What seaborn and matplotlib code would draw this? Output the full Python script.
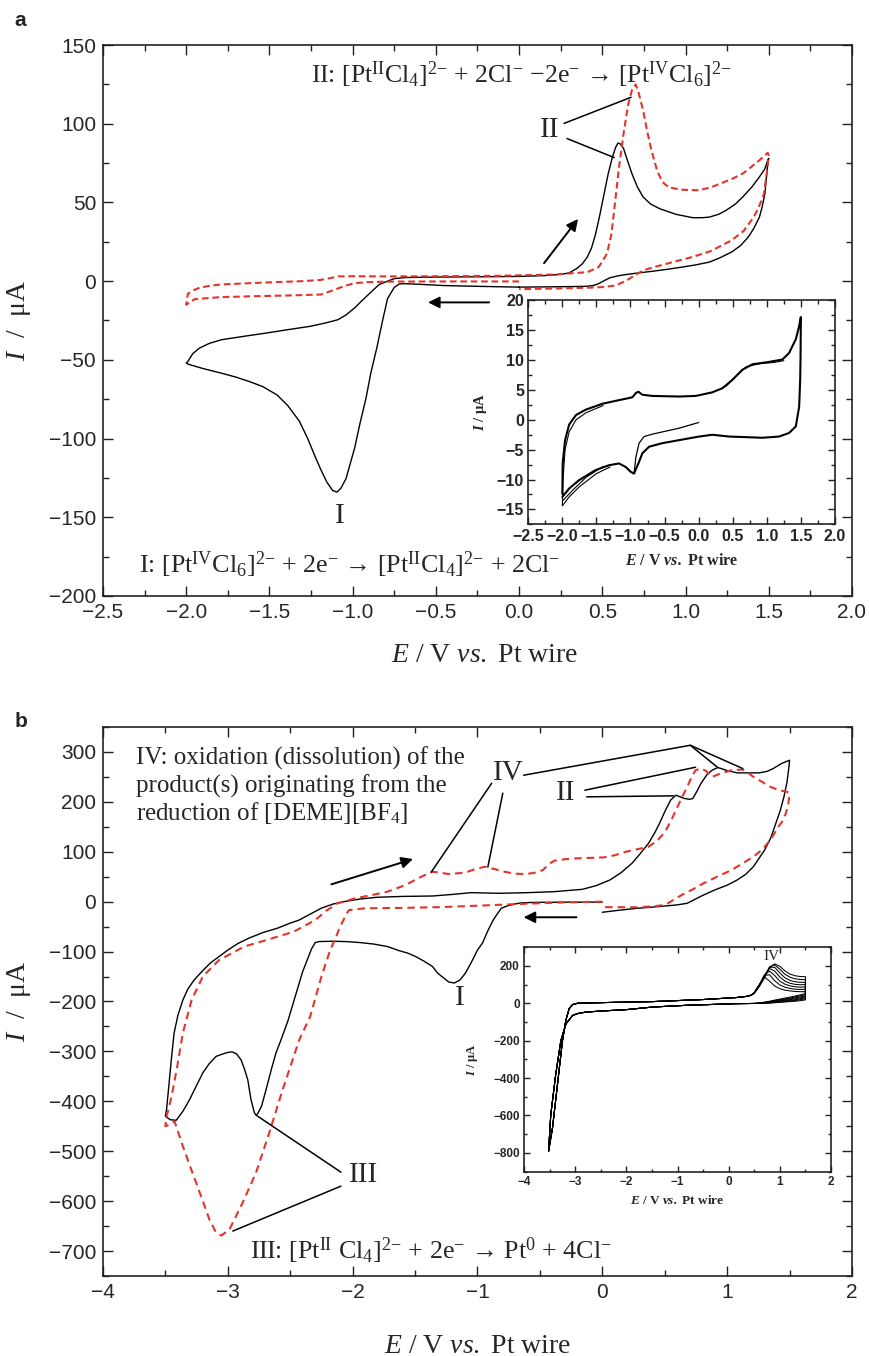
import seaborn as sns
import matplotlib.pyplot as plt
from matplotlib.ticker import MultipleLocator

# ---------------- data: (E / V, I / uA) ----------------
# panel a, solid black cycle
a_black = [(0.00, -3.8), (-0.25, -3.3), (-0.455, -2.8), (-0.60, -2.0), (-0.688, -1.6), (-0.72, -1.8),
           (-0.75, -4.0), (-0.79, -11.0), (-0.82, -25), (-0.855, -42.5), (-0.89, -58), (-0.92, -74.5),
           (-0.955, -90), (-0.988, -106), (-1.04, -125.5), (-1.07, -131.5), (-1.094, -134), (-1.12, -133),
           (-1.155, -127.7), (-1.19, -120), (-1.22, -112.8), (-1.27, -100), (-1.32, -89), (-1.39, -79),
           (-1.454, -72.3), (-1.54, -67), (-1.62, -63.8), (-1.70, -61), (-1.787, -58.5), (-1.90, -55.5),
           (-1.987, -52.8), (-2.00, -52),
           (-1.99, -51), (-1.96, -46), (-1.92, -42.5), (-1.86, -39.5), (-1.787, -37.2), (-1.65, -35),
           (-1.52, -33), (-1.40, -31), (-1.255, -28.7), (-1.16, -26.5), (-1.088, -24.5), (-1.04, -21.5),
           (-0.988, -17), (-0.945, -12.5), (-0.905, -8.5), (-0.87, -5), (-0.84, -2.1), (-0.79, 0.0),
           (-0.75, 1.6), (-0.68, 2.3), (-0.50, 2.6), (-0.20, 2.8), (0.00, 3.0), (0.15, 3.5), (0.25, 4.3),
           (0.30, 5.2), (0.345, 7.9), (0.38, 11), (0.41, 15.3), (0.435, 21), (0.46, 30.1), (0.485, 42),
           (0.511, 55.6), (0.535, 68), (0.561, 78.9), (0.58, 85), (0.595, 87.8), (0.61, 87), (0.628, 84.2),
           (0.65, 77), (0.678, 68.3), (0.71, 60), (0.745, 53.5), (0.79, 49), (0.845, 46), (0.944, 42.4),
           (1.044, 40.3), (1.10, 40.3), (1.144, 40.7), (1.20, 42.5), (1.244, 45), (1.30, 49), (1.344, 53.5),
           (1.40, 60), (1.444, 66.2), (1.475, 71), (1.494, 76.8), (1.50, 78),
           (1.494, 74.7), (1.485, 65), (1.477, 55.6), (1.46, 47), (1.444, 40.7), (1.41, 33.5), (1.377, 28),
           (1.33, 22.5), (1.277, 18.5), (1.21, 15), (1.144, 12.1), (1.06, 10.3), (0.978, 8.9), (0.89, 7.5),
           (0.811, 6.4), (0.74, 5.5), (0.678, 4.7), (0.63, 4.0), (0.595, 3.4), (0.545, 2.1), (0.52, 0.8),
           (0.495, -0.6), (0.47, -2.0), (0.445, -2.8), (0.40, -3.3), (0.345, -3.4), (0.20, -3.6), (0.00, -3.8)]

# panel a, red dashed cycle
a_red = [(0.00, -0.2), (-0.40, -0.2), (-0.79, -0.3), (-0.90, -0.6), (-0.99, -1.3), (-1.06, -3.5),
         (-1.12, -5.9), (-1.19, -8.5), (-1.38, -9.1), (-1.60, -9.6), (-1.80, -10.2), (-1.95, -11.5),
         (-2.00, -15.0), (-1.99, -8.0), (-1.95, -5.5), (-1.92, -4.2), (-1.85, -2.8), (-1.787, -2.1),
         (-1.60, -1.2), (-1.454, -0.6), (-1.30, 0.0), (-1.19, 0.8), (-1.13, 2.0), (-1.088, 3.0), (-1.0, 3.1),
         (-0.79, 3.0), (-0.50, 3.1), (-0.12, 3.4), (0.21, 4.2), (0.41, 5.7), (0.478, 8.9), (0.528, 17.4),
         (0.555, 30), (0.578, 51.3), (0.60, 72), (0.628, 93.8), (0.655, 112), (0.678, 121.4), (0.70, 125.0),
         (0.715, 121), (0.745, 108.6), (0.77, 95), (0.795, 83.2), (0.83, 70), (0.861, 63), (0.90, 59.5),
         (0.978, 58.1), (1.078, 57.7), (1.15, 59.5), (1.21, 62), (1.28, 65), (1.344, 68.3), (1.40, 73),
         (1.444, 76.8), (1.494, 81.5), (1.50, 80), (1.49, 70), (1.47, 55), (1.44, 47), (1.41, 40.7),
         (1.35, 32), (1.277, 25.9), (1.15, 19), (1.04, 15.3), (0.92, 12), (0.81, 8.9), (0.745, 6.8),
         (0.70, 4.0), (0.645, 0.4), (0.60, -1.8), (0.578, -2.8), (0.50, -3.8), (0.41, -4.2), (0.20, -4.7),
         (0.0, -5.1)]

# panel a inset: repeated cycles
ia_start = [(0.0, -0.45), (-0.287, -1.4), (-0.68, -2.4), (-0.80, -2.8), (-0.874, -3.9), (-0.92, -6.2),
            (-0.948, -9.0)]
ia_cycle = [(-2.0, -12.4), (-1.995, -7.3), (-1.96, -3.4), (-1.90, -0.8), (-1.80, 0.8), (-1.657, 1.7),
            (-1.41, 2.7), (-1.168, 3.3), (-1.02, 3.65), (-0.97, 3.8), (-0.92, 4.5), (-0.884, 4.7),
            (-0.825, 4.2), (-0.68, 4.0), (-0.287, 3.9), (-0.042, 4.0), (0.20, 4.6), (0.35, 5.3),
            (0.496, 6.7), (0.643, 8.4), (0.79, 9.3), (1.035, 9.7), (1.23, 10.1), (1.328, 11.2),
            (1.426, 13.5), (1.475, 15.7), (1.50, 17.2), (1.495, 10.0), (1.49, 6.7), (1.475, 2.2),
            (1.426, -1.1), (1.328, -2.2), (1.18, -2.8), (0.937, -3.0), (0.692, -2.9), (0.447, -2.8),
            (0.20, -2.5), (0.007, -2.8), (-0.287, -3.4), (-0.53, -3.9), (-0.727, -4.5), (-0.825, -5.6),
            (-0.884, -7.3), (-0.948, -9.0), (-0.997, -8.7), (-1.07, -7.9), (-1.168, -7.3), (-1.315, -7.6),
            (-1.51, -8.4), (-1.755, -10.1), (-1.90, -11.5), (-2.0, -12.9)]
ia_outer = [(-1.30, -7.9), (-1.50, -9.0), (-1.75, -11.2), (-1.90, -12.9), (-2.0, -14.4), (-1.99, -10.0),
            (-1.96, -5.0), (-1.90, -2.0), (-1.80, 0.0), (-1.65, 1.2), (-1.40, 2.4)]
ia_mid = [(-1.40, -7.8), (-1.65, -9.6), (-1.85, -11.8), (-2.0, -13.6)]
ia_upper = [(0.40, 5.6), (0.55, 7.3), (0.70, 8.9), (0.90, 9.4), (1.10, 9.6), (1.25, 9.9)]

# panel b, solid black
b_black = [(0.0, -1.0), (-0.30, -1.0), (-0.55, -1.5), (-0.65, -2.5), (-0.70, -4.7), (-0.75, -7.5),
           (-0.81, -13.3), (-0.874, -36.7), (-0.92, -60), (-0.96, -83), (-1.0, -97), (-1.05, -122),
           (-1.096, -143), (-1.14, -157), (-1.185, -163), (-1.23, -161), (-1.27, -153), (-1.32, -143),
           (-1.36, -130), (-1.43, -119), (-1.495, -110), (-1.56, -103), (-1.63, -98), (-1.72, -90),
           (-1.83, -85), (-1.94, -82), (-2.05, -80), (-2.16, -79.3), (-2.27, -80), (-2.30, -82),
           (-2.33, -95), (-2.40, -140), (-2.46, -190), (-2.52, -240), (-2.574, -277), (-2.614, -303),
           (-2.65, -335), (-2.694, -377), (-2.73, -410), (-2.77, -429), (-2.787, -423), (-2.814, -397),
           (-2.84, -357), (-2.867, -335), (-2.894, -317), (-2.93, -305), (-2.966, -301), (-3.0, -302),
           (-3.05, -306), (-3.094, -310), (-3.15, -325), (-3.2, -343), (-3.25, -368), (-3.307, -397),
           (-3.36, -420), (-3.413, -438), (-3.46, -437), (-3.50, -430), (-3.49, -415), (-3.47, -363),
           (-3.45, -310), (-3.43, -263), (-3.40, -228), (-3.36, -197), (-3.32, -175), (-3.27, -157),
           (-3.2, -138), (-3.14, -123), (-3.07, -110), (-3.0, -97), (-2.92, -84), (-2.83, -73),
           (-2.72, -62), (-2.6, -53), (-2.5, -43), (-2.43, -37), (-2.34, -25), (-2.25, -13), (-2.16, -5),
           (-2.07, 0), (-1.95, 5), (-1.81, 8.7), (-1.6, 10.5), (-1.36, 11.3), (-1.2, 14.5), (-1.05, 18),
           (-0.83, 16.7), (-0.6, 18), (-0.385, 20), (-0.16, 24.7), (-0.05, 32), (0.06, 43.3), (0.15, 58),
           (0.237, 76.7), (0.30, 95), (0.37, 116.7), (0.42, 138), (0.458, 156.7), (0.50, 180),
           (0.547, 203.3), (0.59, 213.3), (0.625, 210), (0.658, 206.7), (0.70, 205), (0.725, 206.7),
           (0.76, 222), (0.79, 236.7), (0.84, 255), (0.88, 263.3), (0.925, 268.7), (0.96, 266),
           (0.99, 263.3), (1.08, 258), (1.17, 258), (1.257, 258), (1.32, 261), (1.37, 266.7),
           (1.435, 276.7), (1.50, 283.3), (1.495, 270), (1.48, 240), (1.455, 210), (1.425, 182),
           (1.39, 156.7), (1.35, 128), (1.30, 103.3), (1.25, 85), (1.21, 70), (1.15, 55), (1.08, 43.3),
           (1.00, 33), (0.90, 23.3), (0.80, 12), (0.68, -3.3), (0.60, -6.5), (0.503, -8.7), (0.40, -11),
           (0.28, -13.3), (0.14, -17), (0.0, -21.3)]

# panel b, red dashed
b_red = [(0.0, 0.0), (-0.3, -1.5), (-0.6, -4), (-0.99, -8), (-1.3, -11), (-1.6, -12.5), (-1.9, -13.3),
         (-2.03, -17), (-2.05, -25), (-2.10, -50), (-2.14, -75), (-2.18, -97), (-2.25, -150), (-2.34, -230),
         (-2.428, -277), (-2.561, -377), (-2.668, -463), (-2.774, -543), (-2.881, -603), (-2.987, -657),
         (-3.053, -669), (-3.10, -660), (-3.147, -637), (-3.20, -600), (-3.254, -563), (-3.31, -525),
         (-3.36, -490), (-3.427, -440), (-3.47, -447), (-3.50, -450), (-3.49, -430), (-3.45, -390),
         (-3.405, -330), (-3.36, -263), (-3.29, -197), (-3.2, -150), (-3.07, -117), (-2.92, -97),
         (-2.87, -90), (-2.69, -77), (-2.47, -60), (-2.30, -37), (-2.21, -18), (-2.12, -3.3), (-1.98, 6.7),
         (-1.85, 13), (-1.72, 20), (-1.58, 33), (-1.45, 50), (-1.36, 60), (-1.30, 58), (-1.23, 55.3),
         (-1.10, 58), (-1.02, 65), (-0.94, 70), (-0.86, 65), (-0.785, 60), (-0.70, 56), (-0.61, 55.3),
         (-0.54, 58), (-0.475, 63.3), (-0.43, 75), (-0.385, 82), (-0.30, 85), (-0.21, 86.7), (0.015, 88.7),
         (0.10, 93), (0.19, 100), (0.28, 105), (0.37, 110), (0.44, 122), (0.503, 140), (0.55, 162),
         (0.59, 183.3), (0.64, 210), (0.68, 230), (0.72, 252), (0.747, 263.3), (0.79, 266.7), (0.83, 262),
         (0.88, 250), (0.947, 256.7), (1.035, 263.3), (1.125, 264.7), (1.17, 258), (1.21, 250), (1.28, 240),
         (1.346, 230), (1.42, 223), (1.48, 220), (1.50, 216.7), (1.49, 195), (1.47, 176.7), (1.44, 160),
         (1.41, 150), (1.346, 123.3), (1.28, 104), (1.21, 90), (1.12, 76), (1.035, 63.3), (0.92, 50),
         (0.81, 36.7), (0.72, 24), (0.636, 13.3), (0.56, 2), (0.503, -6.7), (0.40, -9.5), (0.28, -11.3),
         (0.0, -11.0)]

# panel b inset: 7 cycles, shared ends, cycle-specific anodic part
ib_fwd = [(-3.52, -791), (-3.444, -668), (-3.346, -434), (-3.248, -200), (-3.183, -92), (-3.118, -29),
          (-3.052, -7), (-2.954, 0), (-2.464, 3.6), (-1.48, 9), (-0.5, 20), (0.15, 30.6), (0.38, 37.8),
          (0.45, 45)]
ib_anodic_E = [0.50, 0.60, 0.70, 0.80, 0.90, 1.00, 1.10, 1.20, 1.30, 1.40, 1.50]
ib_anodic_I = [[58, 100, 140, 118, 92, 78, 70, 66, 63, 62, 62],
               [58, 100, 150, 152, 120, 98, 86, 79, 75, 74, 75],
               [57, 98, 152, 172, 148, 118, 102, 93, 88, 86, 88],
               [56, 96, 150, 186, 172, 140, 118, 107, 101, 99, 100],
               [55, 94, 147, 193, 192, 162, 136, 122, 115, 112, 112],
               [54, 92, 142, 195, 205, 182, 155, 139, 131, 127, 126],
               [53, 90, 136, 192, 211, 197, 173, 156, 147, 143, 142]]
ib_cath_E = [1.50, 1.40, 1.30, 1.20, 1.10, 1.00, 0.90, 0.80, 0.70, 0.60]
ib_cath_I = [[18, 14, 11, 9, 7, 5, 3, 1, 0, -1],
             [24, 19, 15, 12, 10, 7, 5, 2, 1, -1],
             [29, 24, 19, 16, 13, 10, 7, 4, 2, 0],
             [35, 29, 24, 20, 16, 13, 9, 6, 3, 0],
             [40, 34, 29, 24, 20, 16, 12, 8, 4, 1],
             [46, 40, 34, 28, 23, 19, 14, 9, 5, 1],
             [52, 45, 39, 33, 28, 22, 17, 11, 6, 2]]
ib_ret = [(0.50, -1), (0.15, -2), (-0.83, -11), (-1.48, -20), (-2.0, -34), (-2.46, -41), (-2.79, -47),
          (-2.95, -55), (-3.05, -65), (-3.18, -110), (-3.28, -200), (-3.38, -380), (-3.477, -596),
          (-3.52, -791)]

RED = '#e3342b'
SERIF = ['Liberation Serif', 'DejaVu Serif']

sns.set_style('ticks')
plt.rcParams['font.family'] = ['Liberation Sans', 'DejaVu Sans']
plt.rcParams['mathtext.fontset'] = 'custom'
plt.rcParams['mathtext.rm'] = 'Liberation Serif'
plt.rcParams['mathtext.it'] = 'Liberation Serif:italic'
plt.rcParams['mathtext.bf'] = 'Liberation Serif:bold'
plt.rcParams['mathtext.bfit'] = 'Liberation Serif:italic:bold'


def draw(ax, pts, color='black', lw=1.0, ls='-'):
    E, I = zip(*pts)
    sns.lineplot(x=list(E), y=list(I), sort=False, estimator=None, ax=ax,
                 color=color, lw=lw, linestyle=ls, legend=False)


def style(ax, xmaj, xmin, ymaj, ymin, size, bold=False, mlen=7, nlen=4, pad=5):
    ax.xaxis.set_major_locator(MultipleLocator(xmaj))
    ax.xaxis.set_minor_locator(MultipleLocator(xmin))
    ax.yaxis.set_major_locator(MultipleLocator(ymaj))
    ax.yaxis.set_minor_locator(MultipleLocator(ymin))
    ax.tick_params(which='both', direction='in', top=True, right=True, width=1.0, color='#222222')
    ax.tick_params(which='major', length=mlen, labelsize=size, pad=pad)
    ax.tick_params(which='minor', length=nlen)
    for sp in ax.spines.values():
        sp.set_linewidth(1.2)
        sp.set_color('#222222')
    if bold:
        for lab in ax.get_xticklabels() + ax.get_yticklabels():
            lab.set_fontweight('bold')


def leader(ax, pts):
    E, I = zip(*pts)
    ax.plot(E, I, color='black', lw=1.1)


def arrow(ax, start, end):
    ax.annotate('', xy=end, xytext=start,
                arrowprops=dict(arrowstyle='-|>', color='black', lw=1.4,
                                mutation_scale=17, shrinkA=0, shrinkB=0))


fig = plt.figure(figsize=(8.69, 13.56), dpi=100)

# ================= panel a =================
ax = fig.add_axes([0.1185, 0.5605, 0.8619, 0.4063])
draw(ax, a_black, lw=1.0)
draw(ax, a_red, color=RED, lw=1.5, ls=(0, (3.2, 1.8)))
ax.set_xlim(-2.5, 2.0)
ax.set_ylim(-200, 150)
style(ax, 0.5, 0.25, 50, 25, 15)
ax.set_xlabel(r'$\mathit{E}$ / V $\mathit{vs.}$ Pt wire', family=SERIF, fontsize=20)
ax.set_ylabel(r'$\mathit{I}$  /  μA', family=SERIF, fontsize=20)
ax.xaxis.set_label_coords(0.51, -0.085)
ax.yaxis.set_label_coords(-0.093, 0.5)

ax.text(0.278, 0.931,
        r'II: [Pt$^{\mathrm{II}}$Cl$_4$]$^{2{-}}$ + 2Cl$^{{-}}$ $-$2e$^{{-}}$ → [Pt$^{\mathrm{IV}}$Cl$_6$]$^{2{-}}$',
        transform=ax.transAxes, family=SERIF, fontsize=18.6, va='baseline')
ax.text(0.048, 0.042,
        r'I: [Pt$^{\mathrm{IV}}$Cl$_6$]$^{2{-}}$ + 2e$^{{-}}$ → [Pt$^{\mathrm{II}}$Cl$_4$]$^{2{-}}$ + 2Cl$^{{-}}$',
        transform=ax.transAxes, family=SERIF, fontsize=18.7, va='baseline')
ax.text(0.186, 95.7, 'II', family=SERIF, fontsize=21, ha='center', va='center')
ax.text(-1.076, -148.9, 'I', family=SERIF, fontsize=21, ha='center', va='center')
leader(ax, [(0.27, 100.2), (0.673, 116.8)])
leader(ax, [(0.288, 90.6), (0.571, 78.5)])
arrow(ax, (0.150, 11.4), (0.354, 39.5))
arrow(ax, (-0.18, -13.5), (-0.547, -13.5))

# inset a
ins = fig.add_axes([0.6079, 0.6133, 0.3529, 0.1652])
ins.set_facecolor('white')
draw(ins, ia_cycle, lw=1.5)
draw(ins, ia_outer, lw=0.8)
draw(ins, ia_mid, lw=0.8)
draw(ins, ia_upper, lw=0.8)
draw(ins, ia_start, lw=0.9)
ins.set_xlim(-2.5, 2.0)
ins.set_ylim(-17.5, 20)
style(ins, 0.5, 0.25, 5, 2.5, 11.5, bold=True, mlen=5, nlen=3, pad=3)
ins.set_xlabel(r'$\mathbfit{E}$ / V $\mathbfit{vs.}$ Pt wire', family=SERIF, fontsize=11.5, fontweight='bold')
ins.set_ylabel(r'$\mathbfit{I}$ / μA', family=SERIF, fontsize=10.5, fontweight='bold')
ins.xaxis.set_label_coords(0.5, -0.13)
ins.yaxis.set_label_coords(-0.127, 0.5)

# ================= panel b =================
bx = fig.add_axes([0.1185, 0.0590, 0.8619, 0.4049])
draw(bx, b_black, lw=1.0)
draw(bx, b_red, color=RED, lw=1.5, ls=(0, (3.6, 2.4)))
bx.set_xlim(-4, 2)
bx.set_ylim(-750, 350)
style(bx, 1, 0.5, 100, 50, 15)
bx.set_xlabel(r'$\mathit{E}$ / V $\mathit{vs.}$ Pt wire', family=SERIF, fontsize=20)
bx.set_ylabel(r'$\mathit{I}$  /  μA', family=SERIF, fontsize=20)
bx.xaxis.set_label_coords(0.5, -0.105)
bx.yaxis.set_label_coords(-0.093, 0.5)

for yy, line in zip([0.932, 0.880, 0.831],
                    ['IV: oxidation (dissolution) of the',
                     'product(s) originating from the',
                     r'reduction of [DEME][BF$_4$]']):
    bx.text(0.044, yy, line, transform=bx.transAxes, family=SERIF, fontsize=18, va='baseline')
bx.text(0.196, 0.032, r'III: [Pt$^{\mathrm{II}}$ Cl$_4$]$^{2{-}}$ + 2e$^{{-}}$ → Pt$^{0}$ + 4Cl$^{{-}}$',
        transform=bx.transAxes, family=SERIF, fontsize=18.7, va='baseline')
bx.text(-0.75, 257, 'IV', family=SERIF, fontsize=21, ha='center', va='center')
bx.text(-0.293, 217, 'II', family=SERIF, fontsize=21, ha='center', va='center')
bx.text(-1.14, -192.7, 'I', family=SERIF, fontsize=21, ha='center', va='center')
bx.text(-1.916, -546.7, 'III', family=SERIF, fontsize=21, ha='center', va='center')
leader(bx, [(-0.886, 237.3), (-1.37, 59.3)])
leader(bx, [(-0.797, 217.3), (-0.917, 69.3)])
leader(bx, [(-0.63, 253.3), (0.705, 313.3), (0.925, 268.7)])
leader(bx, [(0.705, 313.3), (1.125, 266.7)])
leader(bx, [(-0.14, 223.3), (0.747, 269.3)])
leader(bx, [(-0.125, 210), (0.57, 212)])
leader(bx, [(-2.094, -542), (-2.76, -430)])
leader(bx, [(-2.094, -570), (-2.96, -660)])
arrow(bx, (-2.17, 34.7), (-1.517, 85.3))
arrow(bx, (-0.207, -31.3), (-0.63, -31.3))

# inset b
inb = fig.add_axes([0.6030, 0.1360, 0.3533, 0.1655])
inb.set_facecolor('white')
for an_I, ca_I in zip(ib_anodic_I, ib_cath_I):
    loop = ib_fwd + list(zip(ib_anodic_E, an_I)) + list(zip(ib_cath_E, ca_I)) + ib_ret
    draw(inb, loop, lw=0.75)
inb.set_xlim(-4, 2)
inb.set_ylim(-900, 300)
style(inb, 1, 0.5, 200, 100, 8.5, bold=True, mlen=4.5, nlen=2.5, pad=3)
inb.set_xlabel(r'$\mathbfit{E}$ / V $\mathbfit{vs.}$ Pt wire', family=SERIF, fontsize=9.5, fontweight='bold')
inb.set_ylabel(r'$\mathbfit{I}$ / μA', family=SERIF, fontsize=9, fontweight='bold')
inb.xaxis.set_label_coords(0.5, -0.1)
inb.yaxis.set_label_coords(-0.143, 0.5)
inb.text(0.84, 250, 'IV', family=SERIF, fontsize=11, ha='center', va='center')

fig.text(0.017, 0.981, 'a', fontsize=15, fontweight='bold', va='baseline')
fig.text(0.017, 0.464, 'b', fontsize=15, fontweight='bold', va='baseline')

fig.savefig('out.png', dpi=100)
